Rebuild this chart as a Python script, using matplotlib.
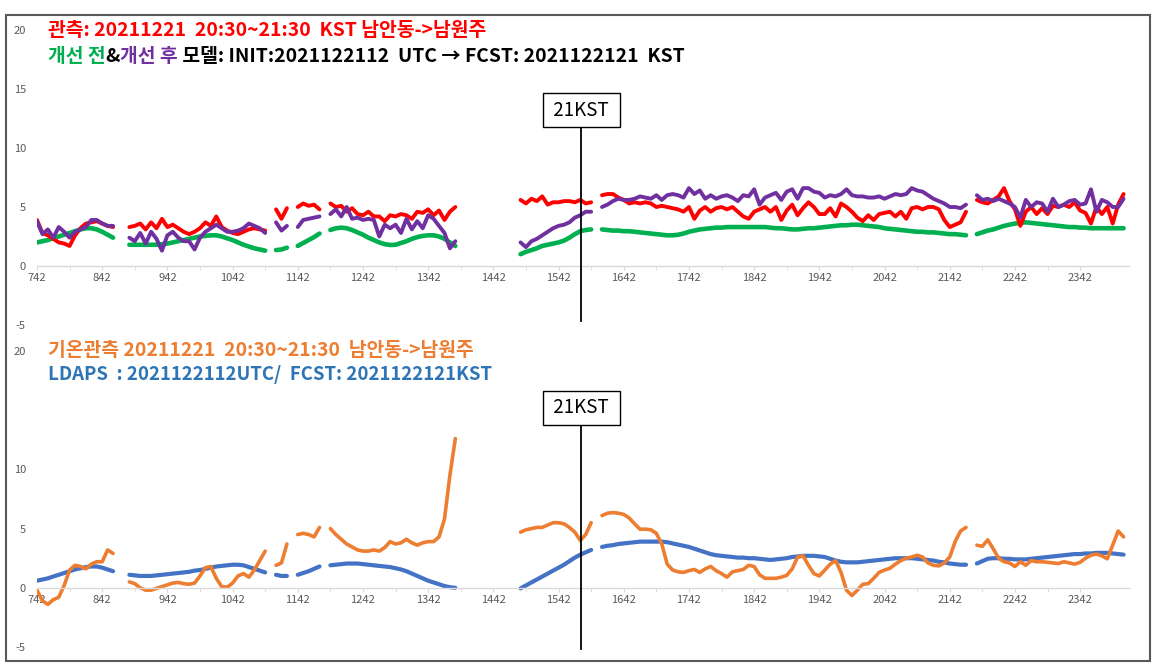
import matplotlib
matplotlib.use("Agg")
import matplotlib.pyplot as plt
import matplotlib.patches as patches
import numpy as np

plt.rcParams['font.family'] = ['Noto Sans CJK KR', 'DejaVu Sans']

# one category every 5 minutes, starting at 07:42
minutes = np.arange(0, 1001, 5)
hour_labels = ['742', '842', '942', '1042', '1142', '1242', '1342', '1442', '1542',
               '1642', '1742', '1842', '1942', '2042', '2142', '2242', '2342']
kst_pos = 501  # where the 21KST marker sits on the category axis

G = [None]

green = ([2.0, 2.1, 2.2, 2.35, 2.5, 2.65, 2.8, 2.95, 3.1, 3.2, 3.2, 3.1, 2.9, 2.65, 2.4] + G * 2
         + [1.8, 1.8, 1.8, 1.8, 1.8, 1.8, 1.85, 1.9, 2.0, 2.1, 2.2, 2.3, 2.4, 2.5, 2.55, 2.6, 2.6,
            2.5, 2.35, 2.2, 2.0, 1.8, 1.65, 1.5, 1.4, 1.3] + G
         + [1.35, 1.4, 1.55] + G
         + [1.7, 1.95, 2.2, 2.45, 2.75] + G
         + [3.05, 3.2, 3.25, 3.2, 3.05, 2.85, 2.65, 2.4, 2.2, 2.0, 1.85, 1.78, 1.8, 1.95, 2.1, 2.3,
            2.45, 2.55, 2.6, 2.6, 2.5, 2.3, 2.0, 1.7] + G * 11
         + [1.0, 1.2, 1.35, 1.5, 1.7, 1.8, 1.9, 2.0, 2.15, 2.4, 2.7, 2.95, 3.05, 3.1] + G
         + [3.1, 3.05, 3.0, 3.0, 2.95, 2.95, 2.9, 2.85, 2.8, 2.75, 2.7, 2.65, 2.6, 2.6, 2.65, 2.75,
            2.9, 3.0, 3.1, 3.15, 3.2, 3.25, 3.25, 3.3, 3.3, 3.3, 3.3, 3.3, 3.3, 3.3, 3.3,
            3.25, 3.2, 3.2, 3.15, 3.1, 3.1, 3.15, 3.2, 3.2, 3.25, 3.3, 3.35, 3.4, 3.45, 3.45, 3.5,
            3.5, 3.45, 3.4, 3.35, 3.3, 3.2, 3.15, 3.1, 3.05, 3.0, 2.95, 2.9, 2.9, 2.85, 2.85, 2.8,
            2.75, 2.7, 2.7, 2.65, 2.6] + G
         + [2.7, 2.85, 3.0, 3.1, 3.25, 3.4, 3.5, 3.6, 3.65, 3.7, 3.65, 3.6, 3.55, 3.5, 3.45, 3.4,
            3.35, 3.3, 3.3, 3.25, 3.25, 3.2, 3.2, 3.2, 3.2, 3.2, 3.2, 3.2])

red = ([3.9, 2.8, 2.6, 2.3, 2.0, 1.9, 1.7, 2.6, 3.2, 3.6, 3.7, 3.8, 3.6, 3.4, 3.3] + G * 2
       + [3.3, 3.4, 3.6, 3.1, 3.7, 3.2, 4.0, 3.3, 3.5, 3.2, 2.9, 2.7, 2.9, 3.2, 3.7, 3.4, 4.2,
          3.3, 3.0, 2.8, 2.7, 2.9, 3.1, 3.2, 3.1, 3.0] + G
       + [4.8, 4.0, 4.9] + G
       + [5.0, 5.3, 5.1, 5.2, 4.8] + G
       + [5.3, 5.0, 5.1, 4.6, 4.9, 4.4, 4.3, 4.6, 4.2, 4.2, 3.8, 4.3, 4.2, 4.4, 4.3, 4.0, 4.6,
          4.5, 4.8, 4.3, 4.7, 3.9, 4.6, 5.0] + G * 11
       + [5.6, 5.3, 5.7, 5.5, 5.9, 5.2, 5.4, 5.4, 5.5, 5.5, 5.4, 5.6, 5.3, 5.4] + G
       + [6.0, 6.1, 6.1, 5.8, 5.6, 5.3, 5.4, 5.3, 5.4, 5.3, 5.0, 5.1, 5.0, 4.9, 4.8, 4.6, 5.0,
          4.0, 4.7, 5.0, 4.6, 4.9, 5.0, 4.8, 5.0, 4.6, 4.2, 4.0, 4.6, 4.8, 5.0,
          4.6, 5.0, 3.9, 4.7, 5.2, 4.3, 4.9, 5.4, 5.0, 4.4, 4.4, 4.9, 4.2, 5.3, 5.0, 4.6, 4.1,
          3.8, 4.3, 3.9, 4.4, 4.5, 4.6, 4.2, 4.6, 4.0, 4.9, 5.0, 4.8, 5.0, 5.0, 4.8, 3.9, 3.3,
          3.5, 3.7, 4.6] + G
       + [5.6, 5.4, 5.3, 5.6, 5.9, 6.6, 5.5, 4.8, 3.4, 4.6, 5.0, 4.4, 4.9, 4.4, 5.1, 5.0, 5.2,
          5.0, 5.4, 4.7, 4.5, 3.6, 5.0, 4.4, 5.0, 3.6, 5.2, 6.1])

purple = ([3.8, 2.7, 3.1, 2.4, 3.3, 2.9, 2.4, 2.9, 3.1, 3.3, 3.9, 3.9, 3.6, 3.4, 3.4] + G * 2
          + [2.4, 2.1, 2.8, 1.9, 2.9, 2.3, 1.3, 2.6, 2.9, 2.4, 2.1, 2.1, 1.4, 2.4, 2.9, 3.2, 3.5,
             3.2, 2.9, 2.9, 3.0, 3.2, 3.6, 3.4, 3.2, 2.8] + G
          + [3.7, 3.0, 3.4] + G
          + [3.3, 3.9, 4.0, 4.1, 4.2] + G
          + [4.4, 4.8, 4.2, 5.0, 4.0, 4.1, 3.9, 4.0, 3.9, 2.5, 3.5, 3.2, 3.5, 2.8, 4.0, 3.1, 3.8,
             3.2, 4.3, 4.0, 3.4, 2.8, 1.5, 2.1] + G * 11
          + [2.0, 1.6, 2.1, 2.3, 2.6, 2.9, 3.2, 3.4, 3.5, 3.7, 4.1, 4.3, 4.6, 4.6] + G
          + [5.0, 5.2, 5.5, 5.7, 5.6, 5.6, 5.7, 5.9, 5.8, 5.7, 6.0, 5.6, 6.0, 6.1, 6.0, 5.8, 6.6,
             6.1, 6.4, 5.7, 6.0, 5.7, 5.9, 6.0, 5.8, 5.5, 6.0, 5.9, 6.5, 5.2, 5.8,
             6.0, 6.2, 5.6, 6.3, 6.5, 5.7, 6.6, 6.6, 6.3, 6.2, 5.8, 6.0, 5.9, 6.1, 6.5, 6.0, 5.9,
             5.9, 5.8, 5.8, 5.9, 5.7, 5.9, 6.1, 6.0, 6.1, 6.6, 6.4, 6.3, 6.0, 5.7, 5.5, 5.3, 5.0,
             5.0, 4.9, 5.2] + G
          + [6.0, 5.6, 5.7, 5.5, 5.7, 5.5, 5.3, 5.0, 4.1, 5.6, 5.0, 5.4, 5.3, 4.6, 5.7, 5.0, 5.2,
             5.5, 5.6, 5.2, 5.3, 6.5, 4.6, 5.6, 5.4, 5.0, 5.0, 5.7])

blue = ([0.6, 0.7, 0.8, 0.95, 1.1, 1.25, 1.4, 1.55, 1.65, 1.75, 1.8, 1.8, 1.7, 1.55, 1.4] + G * 2
        + [1.1, 1.05, 1.0, 1.0, 1.0, 1.05, 1.1, 1.15, 1.2, 1.25, 1.3, 1.35, 1.45, 1.5, 1.6, 1.7,
           1.8, 1.85, 1.9, 1.95, 1.95, 1.9, 1.75, 1.6, 1.45, 1.3] + G
        + [1.1, 1.0, 1.0] + G
        + [1.1, 1.25, 1.4, 1.6, 1.8] + G
        + [1.9, 1.95, 2.0, 2.05, 2.05, 2.05, 2.0, 1.95, 1.9, 1.85, 1.8, 1.75, 1.65, 1.55, 1.4,
           1.2, 1.0, 0.8, 0.6, 0.45, 0.3, 0.15, 0.05, 0.0] + G * 11
        + [-0.05, 0.2, 0.45, 0.7, 0.95, 1.2, 1.45, 1.7, 1.95, 2.25, 2.55, 2.8, 3.0, 3.2] + G
        + [3.45, 3.55, 3.6, 3.7, 3.75, 3.8, 3.85, 3.9, 3.9, 3.9, 3.9, 3.9, 3.85, 3.75, 3.65,
           3.55, 3.45, 3.3, 3.15, 3.0, 2.85, 2.75, 2.7, 2.65, 2.6, 2.55, 2.55, 2.5, 2.5, 2.45, 2.4,
           2.35, 2.4, 2.45, 2.5, 2.6, 2.65, 2.7, 2.7, 2.7, 2.65, 2.6, 2.45, 2.3, 2.2, 2.15, 2.15,
           2.15, 2.2, 2.25, 2.3, 2.35, 2.4, 2.45, 2.5, 2.5, 2.5, 2.5, 2.45, 2.4, 2.35, 2.3, 2.2,
           2.15, 2.05, 2.0, 1.95, 1.95] + G
        + [2.05, 2.25, 2.45, 2.5, 2.5, 2.45, 2.45, 2.4, 2.4, 2.4, 2.45, 2.5, 2.55, 2.6, 2.65,
           2.7, 2.75, 2.8, 2.85, 2.85, 2.9, 2.9, 2.95, 2.95, 2.95, 2.9, 2.85, 2.8])

orange = ([-0.2, -1.1, -1.4, -1.0, -0.8, 0.2, 1.5, 1.9, 1.8, 1.6, 2.0, 2.2, 2.2, 3.2, 2.9] + G * 2
          + [0.5, 0.35, 0.0, -0.2, -0.2, -0.05, 0.1, 0.25, 0.4, 0.45, 0.35, 0.3, 0.4, 1.0, 1.7,
             1.8, 0.8, 0.1, 0.05, 0.4, 1.0, 1.2, 0.9, 1.5, 2.3, 3.1] + G
          + [1.9, 2.1, 3.7] + G
          + [4.5, 4.6, 4.5, 4.3, 5.1] + G
          + [5.0, 4.5, 4.1, 3.7, 3.45, 3.2, 3.1, 3.1, 3.2, 3.1, 3.4, 3.9, 3.7, 3.8, 4.1, 3.8, 3.6,
             3.8, 3.9, 3.9, 4.3, 5.8, 9.5, 12.6] + G * 11
          + [4.7, 4.9, 5.0, 5.1, 5.1, 5.3, 5.5, 5.5, 5.4, 5.1, 4.7, 4.0, 4.5, 5.5] + G
          + [6.1, 6.3, 6.35, 6.3, 6.2, 5.9, 5.4, 4.95, 4.95, 4.9, 4.6, 3.7, 2.0, 1.5, 1.35, 1.3,
             1.45, 1.55, 1.3, 1.6, 1.8, 1.45, 1.2, 0.9, 1.35, 1.45, 1.55, 1.9, 1.8, 1.1, 0.8,
             0.8, 0.8, 0.9, 1.05, 1.6, 2.6, 2.7, 1.9, 1.2, 1.0, 1.5, 2.0, 2.3, 1.3, -0.2, -0.65,
             -0.2, 0.3, 0.35, 0.8, 1.3, 1.5, 1.65, 2.0, 2.3, 2.5, 2.6, 2.75, 2.6, 2.1, 1.9, 1.85,
             2.1, 2.6, 3.9, 4.8, 5.1] + G
          + [3.6, 3.5, 4.05, 3.3, 2.5, 2.2, 2.1, 1.8, 2.2, 1.9, 2.3, 2.2, 2.2, 2.15, 2.1, 2.05,
             2.2, 2.1, 2.0, 2.15, 2.5, 2.75, 2.85, 2.7, 2.45, 3.6, 4.8, 4.3])

W, H = 1157, 668


def px_box(left, top, right, bottom):
    return [left / W, 1 - bottom / H, (right - left) / W, (bottom - top) / H]


def style_axes(ax, yticks, ylabels):
    ax.set_xlim(0, 1005)
    ax.set_ylim(-5, 20)
    for side in ['top', 'right', 'left']:
        ax.spines[side].set_visible(False)
    ax.spines['bottom'].set_position(('data', 0))
    ax.spines['bottom'].set_color('#d9d9d9')
    ax.spines['bottom'].set_linewidth(1)
    ax.set_xticks([60 * i for i in range(len(hour_labels))])
    ax.set_xticklabels(hour_labels)
    ax.set_xticks([30 + 60 * i for i in range(len(hour_labels) - 1)], minor=True)
    ax.tick_params(axis='x', which='both', direction='out', length=3, color='#d9d9d9',
                   labelsize=8, labelcolor='#595959', pad=2)
    ax.set_yticks(yticks)
    ax.set_yticklabels(ylabels)
    ax.tick_params(axis='y', length=0, labelsize=8, labelcolor='#595959', pad=8)
    ax.patch.set_alpha(0)


def color_text(ax, x, y, parts, size):
    t = ax.figure.text(x, y, parts[0][0], color=parts[0][1], fontsize=size,
                       fontweight='bold', va='center')
    for s, c in parts[1:]:
        t = ax.annotate(s, xy=(1, 0), xycoords=t, va='bottom', color=c,
                        fontsize=size, fontweight='bold')


def kst_marker(ax, ybox, ylow, yhigh):
    ax.plot([kst_pos, kst_pos], [ylow, yhigh], color='black', lw=1.3, clip_on=False, zorder=5)
    ax.text(kst_pos, ybox, ' 21KST ', ha='center', va='center', fontsize=13.5, zorder=6,
            bbox=dict(boxstyle='square,pad=0.35', fc='white', ec='black', lw=1))


def main():
    fig = plt.figure(figsize=(W / 100, H / 100), dpi=100)

    fig.add_artist(patches.Rectangle((6 / W, 1 - 661 / H), 1144 / W, 646 / H,
                                     transform=fig.transFigure, fill=False,
                                     ec='#595959', lw=1.5))

    x = minutes
    line_kw = dict(solid_capstyle='round', solid_joinstyle='round')

    ax1 = fig.add_axes(px_box(37, 30, 1129, 325))
    style_axes(ax1, [-5, 0, 5, 10, 15, 20], ['-5', '0', '5', '10', '15', '20'])
    ax1.plot(x, np.array(green, dtype=float), color='#00b050', lw=3.3, **line_kw)
    ax1.plot(x, np.array(red, dtype=float), color='#ff0000', lw=2.8, **line_kw)
    ax1.plot(x, np.array(purple, dtype=float), color='#7030a0', lw=2.8, **line_kw)
    kst_marker(ax1, 13.2, -4.7, 11.7)

    ax2 = fig.add_axes(px_box(37, 351, 1129, 647))
    style_axes(ax2, [-5, 0, 5, 10, 15, 20], ['-5', '0', '5', '10', '', '20'])
    ax2.plot(x, np.array(blue, dtype=float), color='#4472c4', lw=3.0, **line_kw)
    ax2.plot(x, np.array(orange, dtype=float), color='#ed7d31', lw=2.6, **line_kw)
    kst_marker(ax2, 15.2, -5.2, 13.85)

    color_text(ax1, 48 / W, 1 - 31 / H,
               [('관측: 20211221  20:30~21:30  KST 남안동->남원주', '#ff0000')], 13.9)
    color_text(ax1, 48 / W, 1 - 56 / H,
               [('개선 전', '#00b050'), ('&', 'black'), ('개선 후', '#7030a0'),
                (' 모델: INIT:2021122112  UTC → FCST: 2021122121  KST', 'black')], 13.9)
    color_text(ax2, 48 / W, 1 - 351 / H,
               [('기온관측 20211221  20:30~21:30  남안동->남원주', '#ed7d31')], 13.9)
    color_text(ax2, 48 / W, 1 - 375 / H,
               [('LDAPS  : 2021122112UTC/  FCST: 2021122121KST', '#2e75b6')], 13.4)

    fig.savefig('out.png', dpi=100)


if __name__ == '__main__':
    main()
